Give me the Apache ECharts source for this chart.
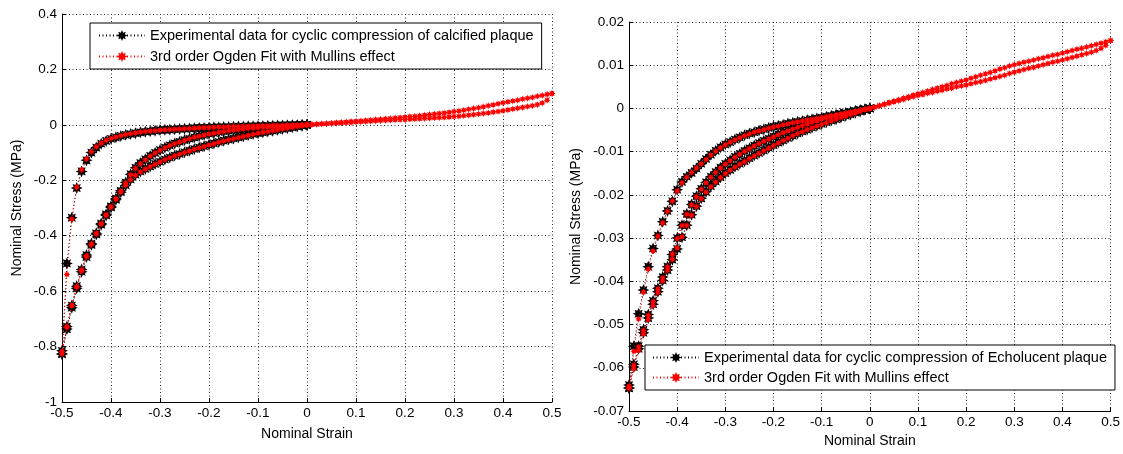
<!DOCTYPE html>
<html>
<head>
<meta charset="utf-8">
<script src="https://cdn.jsdelivr.net/npm/echarts@6/dist/echarts.min.js"></script>
<style>
  html, body { margin: 0; padding: 0; background: #fff; }
  #chart { width: 1123px; height: 454px; }
</style>
</head>
<body>
<div id="chart"></div>
<script>
// Strain grids (compression side and tension side), step 0.01
const strainDown = [0,-0.01,-0.02,-0.03,-0.04,-0.05,-0.06,-0.07,-0.08,-0.09,-0.1,-0.11,-0.12,-0.13,-0.14,-0.15,-0.16,-0.17,-0.18,-0.19,-0.2,-0.21,-0.22,-0.23,-0.24,-0.25,-0.26,-0.27,-0.28,-0.29,-0.3,-0.31,-0.32,-0.33,-0.34,-0.35,-0.36,-0.37,-0.38,-0.39,-0.4,-0.41,-0.42,-0.43,-0.44,-0.45,-0.46,-0.47,-0.48,-0.49,-0.5];
const strainUp = [0,0.01,0.02,0.03,0.04,0.05,0.06,0.07,0.08,0.09,0.1,0.11,0.12,0.13,0.14,0.15,0.16,0.17,0.18,0.19,0.2,0.21,0.22,0.23,0.24,0.25,0.26,0.27,0.28,0.29,0.3,0.31,0.32,0.33,0.34,0.35,0.36,0.37,0.38,0.39,0.4,0.41,0.42,0.43,0.44,0.45,0.46,0.47,0.48,0.49,0.5];

// Tick labels
const strainTicks = ['-0.5','-0.4','-0.3','-0.2','-0.1','0','0.1','0.2','0.3','0.4','0.5'];
const calcStressTicks = ['-1','-0.8','-0.6','-0.4','-0.2','0','0.2','0.4'];
const echoStressTicks = ['-0.07','-0.06','-0.05','-0.04','-0.03','-0.02','-0.01','0','0.01','0.02'];

// ---- Calcified plaque: experimental stress (MPa) ----
const calcExpLoad = [0,-0.003,-0.006,-0.009,-0.012,-0.015,-0.018,-0.021,-0.024,-0.027,-0.030,-0.033,-0.037,-0.041,-0.045,-0.049,-0.053,-0.057,-0.062,-0.067,-0.072,-0.077,-0.082,-0.087,-0.093,-0.099,-0.105,-0.111,-0.118,-0.125,-0.133,-0.141,-0.150,-0.159,-0.168,-0.180,-0.197,-0.218,-0.243,-0.270,-0.298,-0.327,-0.360,-0.395,-0.433,-0.477,-0.530,-0.590,-0.660,-0.737,-0.827];
const calcExpUnload = [0,0,-0.001,-0.001,-0.001,-0.002,-0.002,-0.003,-0.003,-0.004,-0.004,-0.005,-0.005,-0.006,-0.006,-0.007,-0.008,-0.008,-0.009,-0.009,-0.010,-0.011,-0.011,-0.012,-0.013,-0.014,-0.015,-0.016,-0.017,-0.018,-0.019,-0.021,-0.023,-0.025,-0.027,-0.030,-0.033,-0.036,-0.040,-0.045,-0.050,-0.058,-0.068,-0.082,-0.100,-0.128,-0.168,-0.228,-0.335,-0.500,-0.827];
const calcExpReload = [0,-0.001,-0.002,-0.003,-0.004,-0.005,-0.006,-0.007,-0.008,-0.009,-0.010,-0.011,-0.013,-0.015,-0.017,-0.019,-0.021,-0.023,-0.026,-0.029,-0.032,-0.036,-0.040,-0.045,-0.050,-0.055,-0.061,-0.067,-0.074,-0.082,-0.091,-0.101,-0.112,-0.124,-0.138,-0.155,-0.178,-0.208];
const calcExpTail = [-0.238,-0.266,-0.294,-0.323,-0.356,-0.391,-0.428,-0.470,-0.522,-0.582,-0.652,-0.728,-0.815];

// ---- Calcified plaque: Ogden fit stress (MPa) ----
const calcFitTensLoad = [0,0.001,0.003,0.004,0.005,0.006,0.008,0.009,0.010,0.012,0.013,0.014,0.016,0.017,0.019,0.020,0.022,0.023,0.025,0.026,0.028,0.030,0.031,0.033,0.035,0.037,0.039,0.041,0.043,0.045,0.048,0.050,0.053,0.056,0.059,0.062,0.065,0.069,0.072,0.076,0.080,0.083,0.086,0.089,0.093,0.096,0.099,0.103,0.106,0.110,0.113];
const calcFitTensUnload = [0,0.001,0.002,0.003,0.004,0.005,0.006,0.007,0.008,0.009,0.010,0.011,0.012,0.013,0.014,0.015,0.016,0.017,0.018,0.019,0.019,0.020,0.021,0.022,0.023,0.024,0.025,0.026,0.027,0.028,0.030,0.031,0.033,0.035,0.037,0.039,0.041,0.043,0.046,0.048,0.051,0.054,0.057,0.060,0.063,0.066,0.069,0.073,0.079,0.089,0.113];
const calcFitLoad = [0,-0.003,-0.006,-0.009,-0.012,-0.015,-0.018,-0.021,-0.024,-0.027,-0.030,-0.034,-0.038,-0.042,-0.046,-0.050,-0.054,-0.058,-0.063,-0.068,-0.073,-0.078,-0.083,-0.088,-0.094,-0.100,-0.106,-0.112,-0.119,-0.126,-0.134,-0.142,-0.151,-0.160,-0.170,-0.182,-0.198,-0.218,-0.242,-0.268,-0.296,-0.326,-0.358,-0.393,-0.432,-0.476,-0.527,-0.585,-0.652,-0.730,-0.825];
const calcFitUnload = [0,0,-0.001,-0.001,-0.001,-0.002,-0.002,-0.002,-0.003,-0.003,-0.004,-0.004,-0.005,-0.005,-0.006,-0.006,-0.007,-0.008,-0.008,-0.009,-0.010,-0.010,-0.011,-0.012,-0.013,-0.014,-0.015,-0.016,-0.017,-0.018,-0.019,-0.021,-0.022,-0.024,-0.026,-0.029,-0.032,-0.035,-0.039,-0.044,-0.049,-0.056,-0.066,-0.079,-0.097,-0.123,-0.162,-0.225,-0.340,-0.540,-0.825];
const calcFitReload = [0,-0.001,-0.002,-0.003,-0.004,-0.005,-0.006,-0.007,-0.008,-0.009,-0.010,-0.012,-0.013,-0.015,-0.017,-0.019,-0.021,-0.024,-0.027,-0.030,-0.033,-0.037,-0.041,-0.045,-0.050,-0.056,-0.062,-0.068,-0.075,-0.083,-0.092,-0.102,-0.113,-0.126,-0.140,-0.157,-0.180,-0.210];
const calcFitTail = [-0.240,-0.267,-0.296,-0.325,-0.357,-0.392,-0.430,-0.473,-0.524,-0.584,-0.652,-0.729,-0.818];

// ---- Echolucent plaque: experimental stress (MPa) ----
const echoExpLoad = [0,-0.0003,-0.0007,-0.0010,-0.0014,-0.0017,-0.0021,-0.0025,-0.0028,-0.0032,-0.0036,-0.0040,-0.0044,-0.0049,-0.0053,-0.0058,-0.0063,-0.0068,-0.0074,-0.0079,-0.0085,-0.0091,-0.0097,-0.0103,-0.0109,-0.0115,-0.0122,-0.0128,-0.0135,-0.0142,-0.0150,-0.0159,-0.0169,-0.0180,-0.0193,-0.0208,-0.0226,-0.0246,-0.0270,-0.0298,-0.0325,-0.0350,-0.0374,-0.0398,-0.0424,-0.0453,-0.0485,-0.0519,-0.0556,-0.0598,-0.0647];
const echoExpUnload = [0,-0.0002,-0.0004,-0.0006,-0.0009,-0.0011,-0.0013,-0.0015,-0.0017,-0.0019,-0.0021,-0.0023,-0.0025,-0.0027,-0.0029,-0.0031,-0.0033,-0.0035,-0.0038,-0.0040,-0.0042,-0.0045,-0.0048,-0.0051,-0.0055,-0.0058,-0.0062,-0.0067,-0.0072,-0.0078,-0.0083,-0.0090,-0.0098,-0.0107,-0.0117,-0.0128,-0.0139,-0.0149,-0.0158,-0.0170,-0.0188,-0.0215,-0.0237,-0.0262,-0.0294,-0.0324,-0.0366,-0.0420,-0.0475,-0.0550,-0.0647];
const echoExpReload = [0,-0.0002,-0.0004,-0.0006,-0.0008,-0.0011,-0.0013,-0.0016,-0.0019,-0.0022,-0.0025,-0.0028,-0.0032,-0.0035,-0.0039,-0.0043,-0.0047,-0.0051,-0.0055,-0.0060,-0.0065,-0.0070,-0.0075,-0.0080,-0.0086,-0.0092,-0.0098,-0.0105,-0.0112,-0.0120,-0.0128,-0.0137,-0.0147,-0.0158,-0.0171,-0.0186,-0.0203,-0.0222,-0.0244,-0.0270,-0.0300,-0.0338];
const echoExpTail = [-0.0366,-0.0390,-0.0416,-0.0445,-0.0477,-0.0512,-0.0550,-0.0592,-0.0640];

// ---- Echolucent plaque: Ogden fit stress (MPa) ----
const echoFitTensLoad = [0,0.0003,0.0007,0.0010,0.0014,0.0017,0.0020,0.0024,0.0027,0.0031,0.0034,0.0037,0.0040,0.0044,0.0047,0.0050,0.0053,0.0057,0.0060,0.0063,0.0066,0.0070,0.0073,0.0077,0.0080,0.0083,0.0087,0.0091,0.0094,0.0098,0.0101,0.0104,0.0107,0.0109,0.0112,0.0115,0.0117,0.0120,0.0123,0.0125,0.0128,0.0131,0.0134,0.0137,0.0139,0.0142,0.0145,0.0148,0.0151,0.0154,0.0157];
const echoFitTensUnload = [0,0.0003,0.0006,0.0009,0.0012,0.0015,0.0018,0.0021,0.0024,0.0027,0.0030,0.0032,0.0035,0.0037,0.0040,0.0042,0.0045,0.0047,0.0050,0.0052,0.0054,0.0057,0.0060,0.0062,0.0065,0.0068,0.0071,0.0074,0.0077,0.0081,0.0084,0.0087,0.0090,0.0093,0.0095,0.0098,0.0101,0.0104,0.0107,0.0109,0.0112,0.0115,0.0118,0.0121,0.0124,0.0127,0.0130,0.0134,0.0139,0.0146,0.0157];
const echoFitLoad = [0,-0.0003,-0.0007,-0.0011,-0.0014,-0.0018,-0.0021,-0.0025,-0.0029,-0.0033,-0.0037,-0.0041,-0.0045,-0.0049,-0.0054,-0.0058,-0.0063,-0.0069,-0.0074,-0.0080,-0.0086,-0.0092,-0.0098,-0.0104,-0.0110,-0.0116,-0.0123,-0.0129,-0.0136,-0.0143,-0.0151,-0.0160,-0.0170,-0.0181,-0.0194,-0.0209,-0.0227,-0.0247,-0.0271,-0.0297,-0.0323,-0.0349,-0.0374,-0.0399,-0.0426,-0.0456,-0.0488,-0.0522,-0.0560,-0.0602,-0.0647];
const echoFitUnload = [0,-0.0002,-0.0004,-0.0007,-0.0009,-0.0011,-0.0013,-0.0015,-0.0017,-0.0019,-0.0021,-0.0023,-0.0025,-0.0027,-0.0029,-0.0031,-0.0033,-0.0036,-0.0038,-0.0041,-0.0043,-0.0046,-0.0049,-0.0052,-0.0055,-0.0059,-0.0063,-0.0068,-0.0073,-0.0078,-0.0084,-0.0091,-0.0099,-0.0108,-0.0118,-0.0128,-0.0138,-0.0148,-0.0159,-0.0172,-0.0191,-0.0214,-0.0238,-0.0265,-0.0296,-0.0330,-0.0372,-0.0425,-0.0487,-0.0562,-0.0647];
const echoFitReload = [0,-0.0002,-0.0004,-0.0006,-0.0009,-0.0011,-0.0014,-0.0016,-0.0019,-0.0022,-0.0025,-0.0029,-0.0032,-0.0036,-0.0040,-0.0044,-0.0048,-0.0052,-0.0056,-0.0061,-0.0066,-0.0071,-0.0076,-0.0081,-0.0087,-0.0093,-0.0099,-0.0106,-0.0113,-0.0121,-0.0129,-0.0138,-0.0148,-0.0159,-0.0172,-0.0187,-0.0204,-0.0223,-0.0245,-0.0271,-0.0301,-0.0337];
const echoFitTail = [-0.0367,-0.0392,-0.0418,-0.0447,-0.0479,-0.0514,-0.0552,-0.0595,-0.0643];

const calcExpName = 'Experimental data for cyclic compression of calcified plaque';
const echoExpName = 'Experimental data for cyclic compression of Echolucent plaque';
const fitName = '3rd order Ogden Fit with Mullins effect';

// Pair a strain grid with a stress branch
function branch(strains, stress) {
  return stress.map((s, i) => [strains[i], s]);
}
function reversed(arr) { return arr.slice().reverse(); }

// Full loading histories: load, unload, reload
const calcExpPath = [].concat(
  branch(strainDown, calcExpLoad),
  reversed(branch(strainDown, calcExpUnload)),
  branch(strainDown, calcExpReload),
  branch(strainDown.slice(calcExpReload.length), calcExpTail)
);
const calcFitPath = [].concat(
  branch(strainUp, calcFitTensLoad),
  reversed(branch(strainUp, calcFitTensUnload)),
  branch(strainDown, calcFitLoad),
  reversed(branch(strainDown, calcFitUnload)),
  branch(strainDown, calcFitReload),
  branch(strainDown.slice(calcFitReload.length), calcFitTail)
);
const echoExpPath = [].concat(
  branch(strainDown, echoExpLoad),
  reversed(branch(strainDown, echoExpUnload)),
  branch(strainDown, echoExpReload),
  branch(strainDown.slice(echoExpReload.length), echoExpTail)
);
const echoFitPath = [].concat(
  branch(strainUp, echoFitTensUnload),
  reversed(branch(strainUp, echoFitTensLoad)),
  branch(strainDown, echoFitLoad),
  reversed(branch(strainDown, echoFitUnload)),
  branch(strainDown, echoFitReload),
  branch(strainDown.slice(echoFitReload.length), echoFitTail)
);

const FONT = "'Liberation Sans', Arial, Helvetica, sans-serif";
const STAR = 'path://M0,-10 L2.1,-5.1 L6.8,-6.8 L5.1,-2.1 L10,0 L5.1,2.1 L6.8,6.8 L2.1,5.1 L0,10 L-2.1,5.1 L-6.8,6.8 L-5.1,2.1 L-10,0 L-5.1,-2.1 L-6.8,-6.8 L-2.1,-5.1 Z';
const DOTS = [1, 2.5];

function tickLabel(list, lo, step) {
  return function (v) {
    const i = Math.round((v - lo) / step);
    return list[i] !== undefined ? list[i] : '';
  };
}

function xAxis(gridIndex, nameGap) {
  return {
    type: 'value', gridIndex, min: -0.5, max: 0.5, interval: 0.1,
    name: 'Nominal Strain', nameLocation: 'middle', nameGap,
    nameTextStyle: { color: '#000', fontSize: 14, fontFamily: FONT },
    axisLine: { show: true, onZero: false, lineStyle: { color: '#000', width: 1 } },
    axisTick: { show: true, inside: true, length: 4, lineStyle: { color: '#000' } },
    axisLabel: { color: '#000', fontSize: 13.5, fontFamily: FONT, margin: 4,
      formatter: tickLabel(strainTicks, -0.5, 0.1) },
    splitLine: { show: true, lineStyle: { color: '#2a2a2a', width: 1, type: DOTS } }
  };
}
function yAxis(gridIndex, min, max, interval, ticks, nameGap) {
  return {
    type: 'value', gridIndex, min, max, interval,
    name: 'Nominal Stress (MPa)', nameLocation: 'middle', nameGap,
    nameTextStyle: { color: '#000', fontSize: 14, fontFamily: FONT },
    axisLine: { show: true, onZero: false, lineStyle: { color: '#000', width: 1 } },
    axisTick: { show: true, inside: true, length: 4, lineStyle: { color: '#000' } },
    axisLabel: { color: '#000', fontSize: 13.5, fontFamily: FONT, margin: 5,
      formatter: tickLabel(ticks, min, interval) },
    splitLine: { show: true, lineStyle: { color: '#2a2a2a', width: 1, type: DOTS } }
  };
}

function expSeries(name, idx, data) {
  return {
    type: 'line', name, xAxisIndex: idx, yAxisIndex: idx, data,
    symbol: STAR, symbolSize: 12, showSymbol: true,
    itemStyle: { color: '#000' },
    lineStyle: { color: '#000', width: 1, type: DOTS },
    silent: true, emphasis: { disabled: true }, z: 2
  };
}
function fitSeries(idx, data) {
  return {
    type: 'line', name: fitName, xAxisIndex: idx, yAxisIndex: idx, data,
    symbol: STAR, symbolSize: 7, showSymbol: true,
    itemStyle: { color: '#ff0000' },
    lineStyle: { color: '#ff0000', width: 1, type: DOTS },
    silent: true, emphasis: { disabled: true }, z: 3
  };
}

function legend(left, top, names, padding, gap) {
  return {
    left, top, orient: 'vertical', data: names,
    itemWidth: 46, itemHeight: 14, itemGap: gap, padding,
    backgroundColor: '#fff', borderColor: '#000', borderWidth: 1, borderRadius: 0,
    textStyle: { color: '#000', fontSize: 14.5, fontFamily: FONT },
    selectedMode: false
  };
}

const chart = echarts.init(document.getElementById('chart'), null, { renderer: 'canvas' });
chart.setOption({
  animation: false,
  backgroundColor: '#fff',
  grid: [
    { left: 62, top: 14, width: 490, height: 388 },
    { left: 629, top: 22, width: 487, height: 389 }
  ],
  xAxis: [xAxis(0, 25), xAxis(1, 23)],
  yAxis: [
    yAxis(0, -1, 0.4, 0.2, calcStressTicks, 38),
    yAxis(1, -0.07, 0.02, 0.01, echoStressTicks, 46)
  ],
  legend: [
    legend(90, 23, [calcExpName, fitName], [5, 8, 5, 8], 6),
    legend(645, 345, [echoExpName, fitName], [5, 8, 5, 7], 5)
  ],
  series: [
    expSeries(calcExpName, 0, calcExpPath),
    fitSeries(0, calcFitPath),
    expSeries(echoExpName, 1, echoExpPath),
    fitSeries(1, echoFitPath)
  ]
});
</script>
</body>
</html>
